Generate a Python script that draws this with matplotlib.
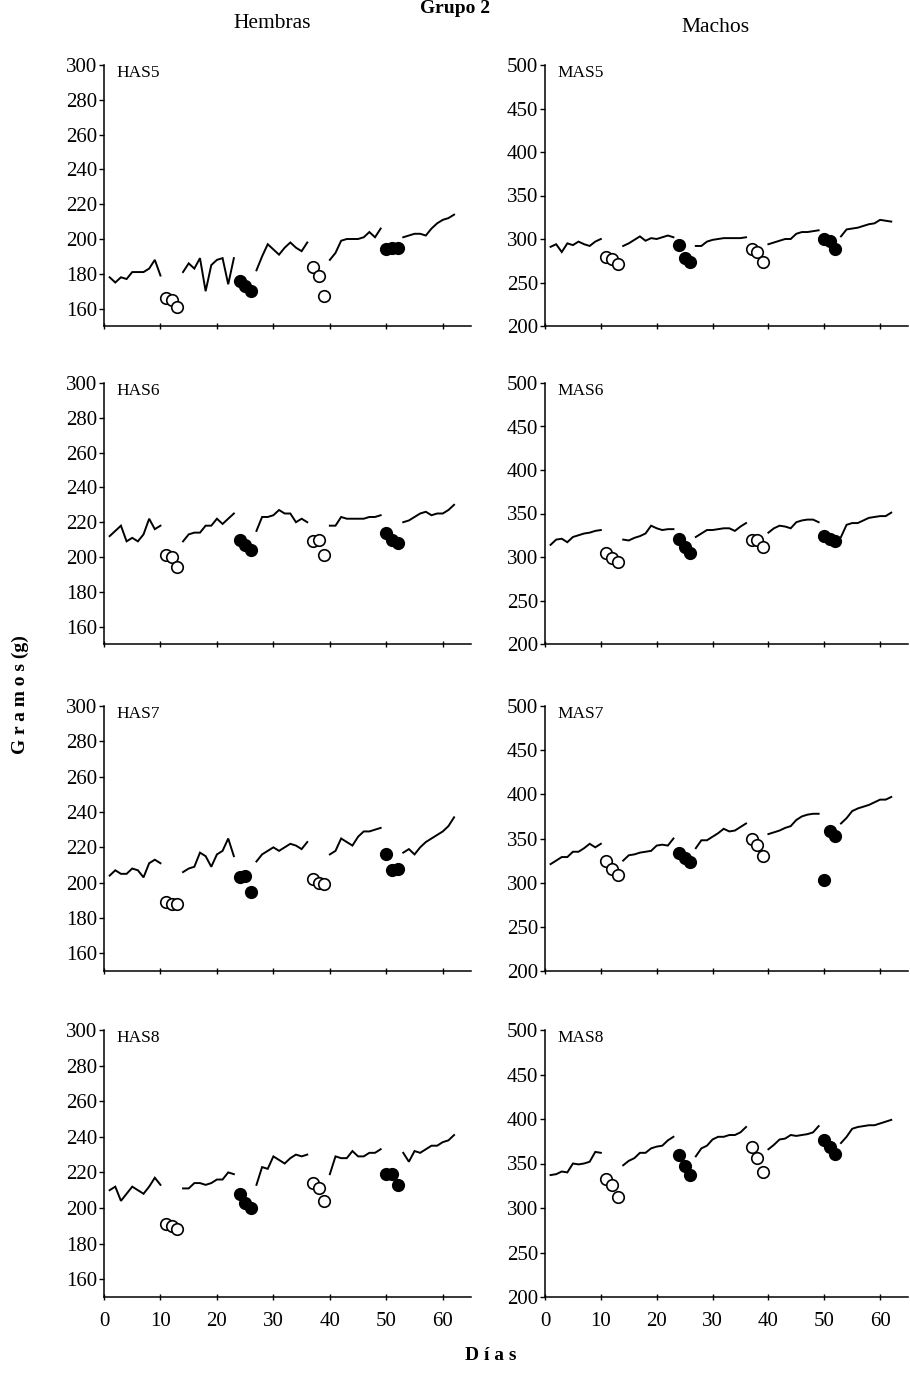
import matplotlib
matplotlib.use("Agg")
import matplotlib.pyplot as plt
import numpy as np

plt.rcParams['font.family'] = ['Liberation Serif', 'DejaVu Serif']

# ---- data ----
seg_days = [list(range(1, 11)), list(range(14, 24)), list(range(27, 37)),
            list(range(40, 50)), list(range(53, 63))]
open_days = [[11, 12, 13], [37, 38, 39]]
fill_days = [[24, 25, 26], [50, 51, 52]]
x_ticks = [0, 10, 20, 30, 40, 50, 60]
fem_yticks = [160, 180, 200, 220, 240, 260, 280, 300]
mal_yticks = [200, 250, 300, 350, 400, 450, 500]

has5_w = [178, 175, 178, 177, 181, 181, 181, 183, 188, 179,
          181, 186, 183, 189, 170, 185, 188, 189, 174, 189,
          182, 190, 197, 194, 191, 195, 198, 195, 193, 198,
          188, 192, 199, 200, 200, 200, 201, 204, 201, 206,
          201, 202, 203, 203, 202, 206, 209, 211, 212, 214]
has5_open = [166, 165, 161, 184, 179, 167]
has5_fill = [176, 173, 170, 194, 195, 195]

mas5_w = [291, 294, 285, 295, 293, 297, 294, 292, 297, 300,
          292, 295, 299, 303, 298, 301, 300, 302, 304, 302,
          292, 292, 297, 299, 300, 301, 301, 301, 301, 302,
          294, 296, 298, 300, 300, 306, 308, 308, 309, 310,
          303, 311, 312, 313, 315, 317, 318, 322, 321, 320]
mas5_open = [279, 277, 271, 288, 285, 274]
mas5_fill = [293, 278, 273, 300, 298, 288]

has6_w = [212, 215, 218, 209, 211, 209, 213, 222, 216, 218,
          209, 213, 214, 214, 218, 218, 222, 219, 222, 225,
          215, 223, 223, 224, 227, 225, 225, 220, 222, 220,
          218, 218, 223, 222, 222, 222, 222, 223, 223, 224,
          220, 221, 223, 225, 226, 224, 225, 225, 227, 230]
has6_open = [201, 200, 194, 209, 210, 201]
has6_fill = [210, 207, 204, 214, 210, 208]

mas6_w = [314, 320, 321, 317, 323, 325, 327, 328, 330, 331,
          320, 319, 322, 324, 327, 336, 333, 331, 332, 332,
          323, 327, 331, 331, 332, 333, 333, 330, 335, 339,
          328, 333, 336, 335, 333, 340, 342, 343, 343, 340,
          323, 337, 339, 339, 342, 345, 346, 347, 347, 351]
mas6_open = [305, 299, 294, 320, 319, 311]
mas6_fill = [321, 311, 305, 324, 321, 318]

has7_w = [204, 207, 205, 205, 208, 207, 203, 211, 213, 211,
          206, 208, 209, 217, 215, 209, 216, 218, 225, 215,
          212, 216, 218, 220, 218, 220, 222, 221, 219, 223,
          216, 218, 225, 223, 221, 226, 229, 229, 230, 231,
          217, 219, 216, 220, 223, 225, 227, 229, 232, 237]
has7_open = [189, 188, 188, 202, 200, 199]
has7_fill = [203, 204, 195, 216, 207, 208]

mas7_w = [321, 325, 329, 329, 335, 335, 339, 344, 340, 344,
          325, 331, 332, 334, 335, 336, 342, 343, 342, 350,
          339, 348, 348, 352, 356, 361, 358, 359, 363, 367,
          355, 357, 359, 362, 364, 371, 375, 377, 378, 378,
          367, 373, 381, 384, 386, 388, 391, 394, 394, 397]
mas7_open = [325, 315, 309, 350, 343, 330]
mas7_fill = [334, 328, 323, 303, 359, 353]

has8_w = [210, 212, 204, 208, 212, 210, 208, 212, 217, 213,
          211, 211, 214, 214, 213, 214, 216, 216, 220, 219,
          213, 223, 222, 229, 227, 225, 228, 230, 229, 230,
          219, 229, 228, 228, 232, 229, 229, 231, 231, 233,
          231, 226, 232, 231, 233, 235, 235, 237, 238, 241]
has8_open = [191, 190, 188, 214, 211, 204]
has8_fill = [208, 203, 200, 219, 219, 213]

mas8_w = [337, 338, 341, 340, 350, 349, 350, 352, 363, 362,
          348, 353, 356, 362, 362, 367, 369, 370, 376, 380,
          358, 367, 370, 377, 380, 380, 382, 382, 385, 391,
          366, 371, 377, 378, 382, 381, 382, 383, 385, 392,
          373, 380, 389, 391, 392, 393, 393, 395, 397, 399]
mas8_open = [333, 326, 312, 369, 356, 340]
mas8_fill = [360, 347, 337, 376, 368, 361]

panel_names = [("HAS5", "MAS5"), ("HAS6", "MAS6"), ("HAS7", "MAS7"), ("HAS8", "MAS8")]
panel_data = {
    "HAS5": (has5_w, has5_open, has5_fill), "MAS5": (mas5_w, mas5_open, mas5_fill),
    "HAS6": (has6_w, has6_open, has6_fill), "MAS6": (mas6_w, mas6_open, mas6_fill),
    "HAS7": (has7_w, has7_open, has7_fill), "MAS7": (mas7_w, mas7_open, mas7_fill),
    "HAS8": (has8_w, has8_open, has8_fill), "MAS8": (mas8_w, mas8_open, mas8_fill),
}

# ---- figure ----
W, H = 910, 1378
fig = plt.figure(figsize=(W / 100, H / 100), dpi=100)

col_x = [(104, 367), (545, 363)]
row_y = [(65, 326), (383, 644), (706, 971), (1030, 1297)]

for r, (top, bot) in enumerate(row_y):
    for c, (x0, w) in enumerate(col_x):
        name = panel_names[r][c]
        weights, op, fi = panel_data[name]
        ax = fig.add_axes([x0 / W, 1 - bot / H, w / W, (bot - top) / H])
        for k, days in enumerate(seg_days):
            ax.plot(days, weights[k * 10:(k + 1) * 10], color='black', lw=1.4,
                    solid_joinstyle='miter')
        for k in range(2):
            ax.plot(open_days[k], op[k * 3:(k + 1) * 3], 'o', ms=8.3,
                    mfc='white', mec='black', mew=1.2, ls='none', zorder=3)
            ax.plot(fill_days[k], fi[k * 3:(k + 1) * 3], 'o', ms=8.3,
                    mfc='black', mec='black', mew=1.2, ls='none', zorder=3)
        ax.set_xlim(0, 65)
        if c == 0:
            ax.set_ylim(150, 300)
            ax.set_yticks(fem_yticks)
        else:
            ax.set_ylim(200, 500)
            ax.set_yticks(mal_yticks)
        ax.set_xticks(x_ticks)
        for s in ['top', 'right']:
            ax.spines[s].set_visible(False)
        for s in ['left', 'bottom']:
            ax.spines[s].set_linewidth(1.1)
        ax.tick_params(axis='y', direction='out', length=3.5, width=1, pad=1.5,
                       labelsize=15)
        ax.tick_params(axis='x', direction='inout', length=4, width=1, pad=9,
                       labelsize=15)
        if r < 3:
            ax.tick_params(axis='x', labelbottom=False)
        ax.text(0.035, 0.97, name, transform=ax.transAxes, fontsize=12.5,
                ha='left', va='center')

fig.text(455 / W, 1.0, "Grupo 2", fontsize=14, fontweight='bold',
         ha='center', va='top')
fig.text(272 / W, 1 - 23 / H, "Hembras", fontsize=15.5, ha='center', va='center')
fig.text(716 / W, 1 - 28 / H, "Machos", fontsize=15.5, ha='center', va='center')
fig.text(20 / W, 1 - 695 / H, "G r a m o s (g)", fontsize=14, fontweight='bold',
         rotation=90, ha='center', va='center')
fig.text(491 / W, 1 - 1355 / H, "D í a s", fontsize=14, fontweight='bold',
         ha='center', va='center')

fig.savefig("out.png", dpi=100, facecolor='white')
